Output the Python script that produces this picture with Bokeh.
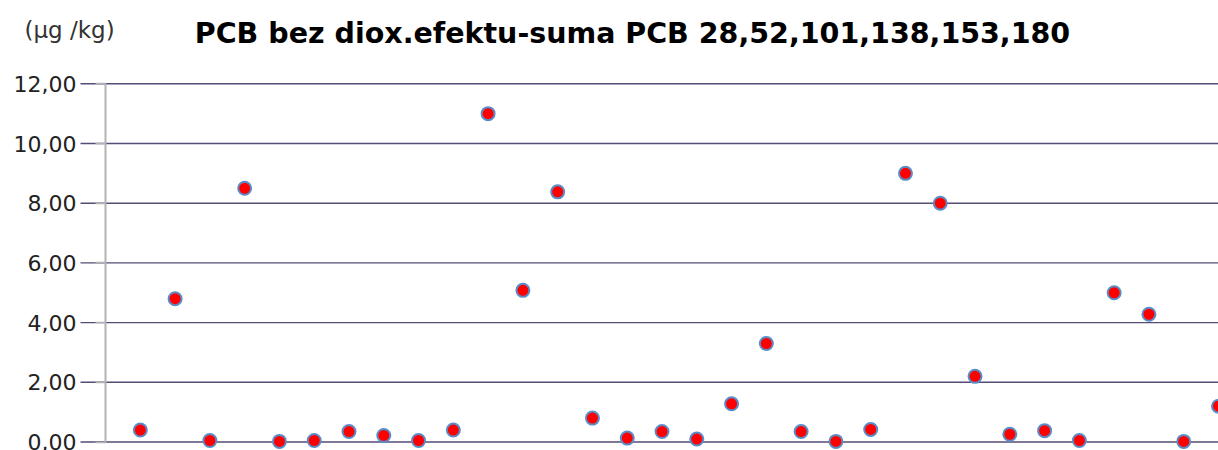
from bokeh.plotting import figure
from bokeh.models import Label, Range1d, FixedTicker, CustomJSTickFormatter
from bokeh.embed import file_html
from bokeh.resources import INLINE

title_text = "PCB bez diox.efektu-suma PCB 28,52,101,138,153,180"
unit_text = "(\u00b5g /kg)"

sample_index = list(range(1, 33))
pcb_values = [0.40, 4.80, 0.05, 8.50, 0.02, 0.05, 0.35, 0.22, 0.05, 0.40,
              11.00, 5.08, 8.38, 0.80, 0.13, 0.35, 0.10, 1.28, 3.30, 0.35,
              0.02, 0.42, 9.00, 8.00, 2.20, 0.26, 0.38, 0.05, 5.00, 4.28,
              0.02, 1.20]
y_ticks = [0, 2, 4, 6, 8, 10, 12]

W, H = 1218, 450
px_per_x = 34.77
px_per_y = 29.85
x0_px = 105.0    # page x of the value axis
y0_px = 441.5    # page y of the zero line
x_start = -x0_px / px_per_x
y_start = -(H - y0_px) / px_per_y
y_end = y0_px / px_per_y

p = figure(width=W, height=H, output_backend="svg", toolbar_location=None,
           x_range=Range1d(x_start, 32.0), y_range=Range1d(y_start, y_end),
           min_border_left=0, min_border_right=0, min_border_top=0,
           min_border_bottom=0)
p.outline_line_color = None
p.background_fill_color = "white"
p.border_fill_color = "white"

p.xaxis.visible = False
p.xgrid.visible = False
p.ygrid.visible = False

# horizontal gridlines, starting a little left of the axis (as tick marks)
grid_x0 = x_start + 80 / px_per_x
p.segment(x0=[grid_x0] * len(y_ticks), x1=[32.0] * len(y_ticks),
          y0=y_ticks, y1=y_ticks, line_color="#554d75", line_width=1.4)

p.yaxis.fixed_location = 0
p.yaxis.ticker = FixedTicker(ticks=y_ticks)
p.yaxis.formatter = CustomJSTickFormatter(code="return tick.toFixed(2).replace('.', ',');")
p.yaxis.bounds = (0, 12)
p.yaxis.axis_line_color = "#b3b3b3"
p.yaxis.axis_line_width = 2
p.yaxis.major_tick_out = 10
p.yaxis.major_tick_in = 0
p.yaxis.major_tick_line_color = "#b3b3b3"
p.yaxis.major_tick_line_width = 1.4
p.yaxis.minor_tick_line_color = None
p.yaxis.major_label_standoff = 19
p.yaxis.major_label_text_font = "DejaVu Sans"
p.yaxis.major_label_text_font_size = "22px"
p.yaxis.major_label_text_color = "#222222"

p.scatter(sample_index, pcb_values, size=13, fill_color="#ff0000",
          line_color="#5b8cc8", line_width=2)

p.add_layout(Label(x=632, y=H - 33, x_units="screen", y_units="screen",
                   text=title_text, text_font="DejaVu Sans", text_font_style="bold",
                   text_font_size="28.5px", text_color="#000000",
                   text_baseline="middle", text_align="center"))
p.add_layout(Label(x=24, y=H - 29, x_units="screen", y_units="screen",
                   text=unit_text, text_font="DejaVu Sans", text_font_size="23px",
                   text_color="#333333", text_baseline="middle", text_align="left"))

open("out.html", "w").write(file_html(p, INLINE))
